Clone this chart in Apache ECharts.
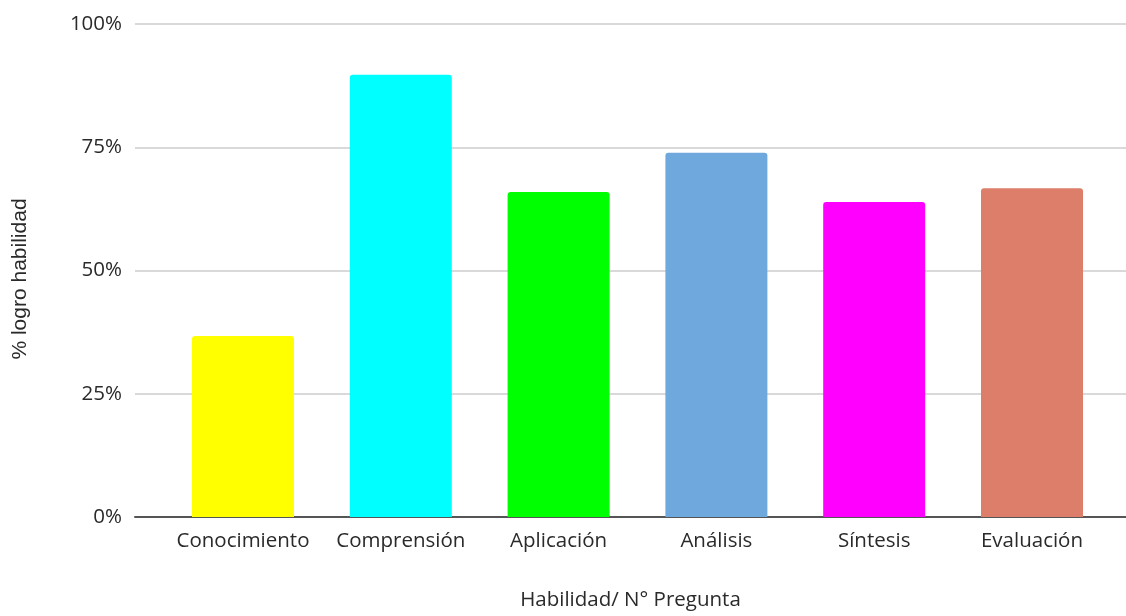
<!DOCTYPE html>
<html>
<head>
<meta charset="utf-8">
<script src="https://cdn.jsdelivr.net/npm/echarts@6/dist/echarts.min.js"></script>
<style>
html,body{margin:0;padding:0;background:#fff;}
#chart{width:1126px;height:616px;}
</style>
</head>
<body>
<div id="chart"></div>
<script>
const categories = ['Conocimiento', 'Comprensión', 'Aplicación', 'Análisis', 'Síntesis', 'Evaluación'];
const values = [36.7, 89.7, 65.9, 73.9, 63.9, 66.7];
const colors = ['#ffff00', '#00ffff', '#00ff00', '#6fa8dc', '#ff00ff', '#dd7e6b'];
const yTicks = [0, 25, 50, 75, 100];
const xTitle = 'Habilidad/ N° Pregunta';
const yTitle = '% logro habilidad';

const font = '"Open Sans", sans-serif';
const chart = echarts.init(document.getElementById('chart'), null, {renderer: 'canvas'});
chart.setOption({
  animation: false,
  backgroundColor: '#ffffff',
  grid: {left: 135, right: 0, top: 24, bottom: 94, containLabel: false},
  xAxis: {
    type: 'value',
    min: -0.6844,
    max: 5.5957,
    splitLine: {show: false},
    axisTick: {show: false},
    axisLine: {show: true, lineStyle: {color: '#555555', width: 2}},
    axisLabel: {
      customValues: categories.map((c, i) => i),
      formatter: v => categories[Math.round(v)] || '',
      color: '#2a2a2a', fontFamily: font, fontSize: 20.5, margin: 14
    },
    name: xTitle,
    nameLocation: 'middle',
    nameGap: 73,
    nameTextStyle: {color: '#2a2a2a', fontFamily: font, fontSize: 20.5}
  },
  yAxis: {
    type: 'value',
    min: 0, max: 100, interval: 25,
    axisLine: {show: false},
    axisTick: {show: false},
    splitLine: {lineStyle: {color: '#cccccc', width: 1.5}},
    axisLabel: {
      formatter: v => yTicks.includes(v) ? v + '%' : '',
      color: '#2a2a2a', fontFamily: font, fontSize: 20.5, margin: 13
    },
    name: yTitle,
    nameLocation: 'middle',
    nameGap: 104,
    nameTextStyle: {color: '#2a2a2a', fontFamily: '"Liberation Sans", Arial, sans-serif', fontSize: 21, padding: [0, 17, 0, 0]}
  },
  series: [{
    type: 'bar',
    barWidth: 102,
    data: values.map((v, i) => ({value: [i, v], itemStyle: {color: colors[i]}})),
    itemStyle: {borderRadius: [3, 3, 0, 0]}
  }]
});
</script>
</body>
</html>
